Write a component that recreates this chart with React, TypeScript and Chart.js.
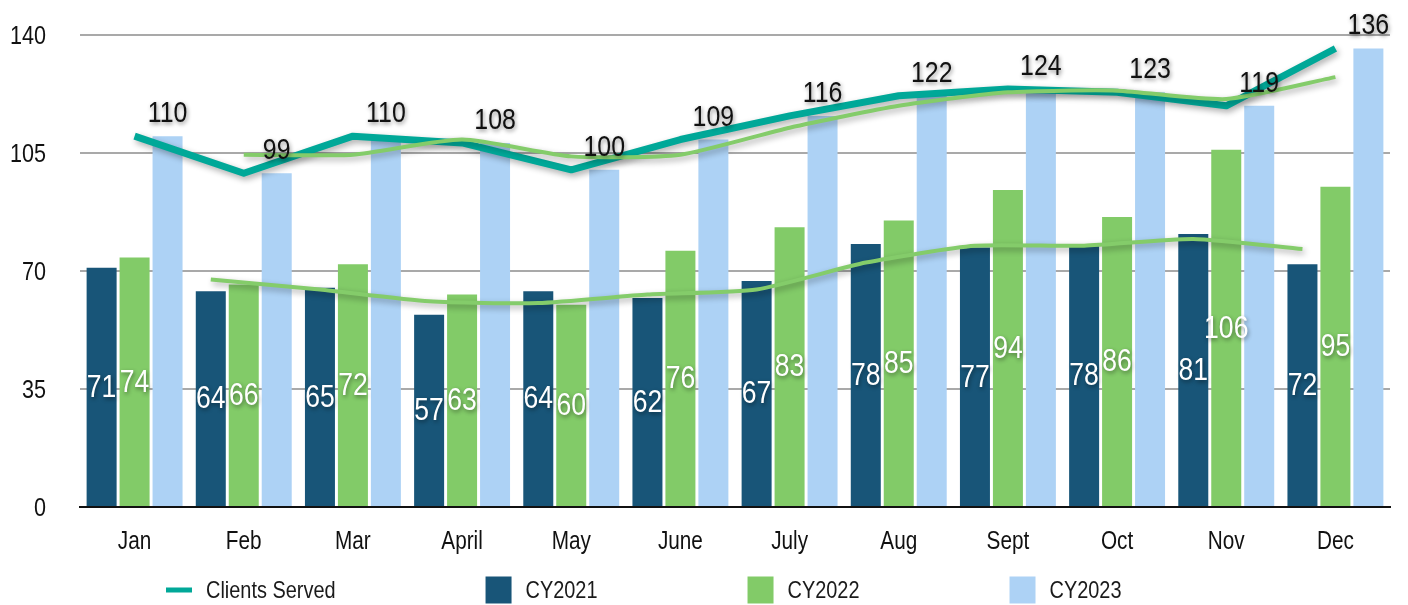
import React, { useEffect, useRef } from "react";
import { Chart, registerables } from "chart.js";

Chart.register(...registerables);

// ---- data ----
const months = ["Jan", "Feb", "Mar", "April", "May", "June", "July", "Aug", "Sept", "Oct", "Nov", "Dec"];
const cy2021 = [71, 64, 65, 57, 64, 62, 67, 78, 77, 78, 81, 72];
const cy2022 = [74, 66, 72, 63, 60, 76, 83, 85, 94, 86, 106, 95];
const cy2023 = [110, 99, 110, 108, 100, 109, 116, 122, 124, 123, 119, 136];
const clientsServed = [110, 99, 110, 108, 100, 109, 116, 122, 124, 123, 119, 136];
// 2-period moving-average trend lines
const clientsTrend = [null, 104.5, 104.5, 109, 104, 104.5, 112.5, 119, 123, 123.5, 121, 127.5];
const cy2021Trend = [null, 67.5, 64.5, 61, 60.5, 63, 64.5, 72.5, 77.5, 77.5, 79.5, 76.5];
const yMin = 0;
const yMax = 140;
const yStep = 35;

// ---- styles ----
const FONT = '"Liberation Sans", Arial, sans-serif';
const SX = 0.83; // horizontal condensing of text
const C_2021 = "#185578";
const C_2022 = "#82cb68";
const C_2023 = "#add2f5";
const C_TEAL = "#00a898";
const C_TREND = "#84cc6a";
const GROUP_SLOT = 0.302; // bar slot width in category units
const BAR_PCT = 0.91;

function drawText(ctx: CanvasRenderingContext2D, text: string, x: number, y: number, align: CanvasTextAlign, baseline: CanvasTextBaseline) {
  ctx.save();
  ctx.translate(x, y);
  ctx.scale(SX, 1);
  ctx.textAlign = align;
  ctx.textBaseline = baseline;
  ctx.fillText(text, 0, 0);
  ctx.restore();
}

const shadowPlugin = {
  id: "lineShadow",
  beforeDatasetDraw(chart: any, args: any) {
    const ds = chart.data.datasets[args.index];
    if (ds.type === "line") {
      const ctx = chart.ctx;
      ctx.save();
      ctx.shadowColor = "rgba(0,0,0,0.33)";
      ctx.shadowBlur = 6;
      ctx.shadowOffsetX = 2;
      ctx.shadowOffsetY = 3;
    }
  },
  afterDatasetDraw(chart: any, args: any) {
    const ds = chart.data.datasets[args.index];
    if (ds.type === "line") chart.ctx.restore();
  },
};

const valueLabelPlugin = {
  id: "valueLabels",
  afterDatasetsDraw(chart: any) {
    const ctx = chart.ctx;
    ctx.save();
    ctx.shadowColor = "rgba(0,0,0,0.45)";
    ctx.shadowBlur = 4;
    ctx.shadowOffsetX = 1;
    ctx.shadowOffsetY = 2;
    // inside labels for CY2021 and CY2022
    [0, 1].forEach((di) => {
      const meta = chart.getDatasetMeta(di);
      const data = chart.data.datasets[di].data;
      ctx.font = `32px ${FONT}`;
      ctx.fillStyle = "#ffffff";
      meta.data.forEach((bar: any, i: number) => {
        const p = bar.getProps(["x", "y", "base"], true);
        drawText(ctx, String(data[i].y), p.x, (p.y + p.base) / 2 + 1, "center", "middle");
      });
    });
    // outside-end labels for CY2023
    const meta = chart.getDatasetMeta(2);
    const data = chart.data.datasets[2].data;
    ctx.font = `30px ${FONT}`;
    ctx.fillStyle = "#111111";
    meta.data.forEach((bar: any, i: number) => {
      const p = bar.getProps(["x", "y"], true);
      drawText(ctx, String(data[i].y), p.x, p.y - 14, "center", "alphabetic");
    });
    ctx.restore();
  },
};

const axisTextPlugin = {
  id: "axisText",
  afterDraw(chart: any) {
    const ctx = chart.ctx;
    const xs = chart.scales.x;
    const ys = chart.scales.y;
    ctx.save();
    ctx.fillStyle = "#111111";
    ctx.font = `26px ${FONT}`;
    ys.ticks.forEach((t: any, i: number) => {
      drawText(ctx, String(t.value), ys.right - 34, ys.getPixelForTick(i) + 2, "right", "middle");
    });
    ctx.font = `25px ${FONT}`;
    xs.ticks.forEach((t: any, i: number) => {
      drawText(ctx, String(xs.getLabelForValue(t.value)), xs.getPixelForTick(i), chart.chartArea.bottom + 35, "center", "middle");
    });
    ctx.restore();
  },
};

const legendPlugin = {
  id: "customLegend",
  afterDraw(chart: any) {
    const ctx = chart.ctx;
    const ds = chart.data.datasets;
    const items = [
      { text: ds[3].label, color: C_TEAL, line: true },
      { text: ds[0].label, color: C_2021, line: false },
      { text: ds[1].label, color: C_2022, line: false },
      { text: ds[2].label, color: C_2023, line: false },
    ];
    const cy = chart.height - 15;
    let x = 166;
    ctx.save();
    ctx.font = `24px ${FONT}`;
    items.forEach((it) => {
      ctx.fillStyle = it.color;
      if (it.line) ctx.fillRect(x, cy - 2.5, 26, 5);
      else ctx.fillRect(x, cy - 13.5, 26, 27);
      ctx.fillStyle = "#1a1a1a";
      drawText(ctx, it.text, x + 40, cy + 1, "left", "middle");
      x += 40 + ctx.measureText(it.text).width * SX + 150;
    });
    ctx.restore();
  },
};

export default function App() {
  const ref = useRef<HTMLCanvasElement | null>(null);

  useEffect(() => {
    if (!ref.current) return;
    const pts = (arr: (number | null)[], shift: number) => arr.map((v, i) => ({ x: i + shift, y: v }));
    const barDs = (label: string, arr: number[], slot: number, color: string) => ({
      type: "bar", label, data: pts(arr, slot * GROUP_SLOT), backgroundColor: color, order: 3,
      xAxisID: "xb", grouped: false, categoryPercentage: 1, barPercentage: BAR_PCT,
    });
    const chart = new Chart(ref.current, {
      type: "bar",
      data: {
        labels: months,
        datasets: [
          barDs("CY2021", cy2021, -1, C_2021) as any,
          barDs("CY2022", cy2022, 0, C_2022) as any,
          barDs("CY2023", cy2023, 1, C_2023) as any,
          {
            type: "line", label: "Clients Served", data: pts(clientsServed, 0), xAxisID: "xb",
            borderColor: C_TEAL, backgroundColor: C_TEAL,
            borderWidth: 7, pointRadius: 0, tension: 0, order: 2, borderJoinStyle: "round",
          } as any,
          {
            type: "line", label: "Clients trend", data: pts(clientsTrend, 0), xAxisID: "xb",
            borderColor: C_TREND, borderWidth: 4, pointRadius: 0, tension: 0.2, order: 1,
          } as any,
          {
            type: "line", label: "CY2021 trend", data: pts(cy2021Trend, -GROUP_SLOT), xAxisID: "xb",
            borderColor: C_TREND, borderWidth: 4, pointRadius: 0, tension: 0.2, order: 1,
          } as any,
        ],
      },
      options: {
        responsive: false,
        animation: false,
        events: [],
        layout: { padding: { left: 0, right: 18, top: 35, bottom: 0 } },
        plugins: { legend: { display: false }, tooltip: { enabled: false } },
        scales: {
          x: {
            type: "category",
            offset: true,
            grid: { display: false, drawTicks: false },
            border: { display: true, color: "#111111", width: 2 },
            ticks: { display: false },
            afterFit: (s: any) => { s.height = 98; },
          },
          xb: {
            type: "linear",
            display: false,
            min: -0.5,
            max: months.length - 0.5,
            offset: false,
          },
          y: {
            min: yMin,
            max: yMax,
            ticks: { stepSize: yStep, display: false },
            grid: { color: "#a9a9a9", lineWidth: 2, drawTicks: false },
            border: { display: false },
            afterFit: (s: any) => { s.width = 80; },
          },
        },
      } as any,
      plugins: [shadowPlugin, valueLabelPlugin, axisTextPlugin, legendPlugin],
    });
    return () => chart.destroy();
  }, []);

  return (
    <div style={{ position: "absolute", left: 0, top: 0, width: 1408, height: 605, background: "#ffffff" }}>
      <canvas ref={ref} width={1408} height={605} style={{ display: "block" }} />
    </div>
  );
}
